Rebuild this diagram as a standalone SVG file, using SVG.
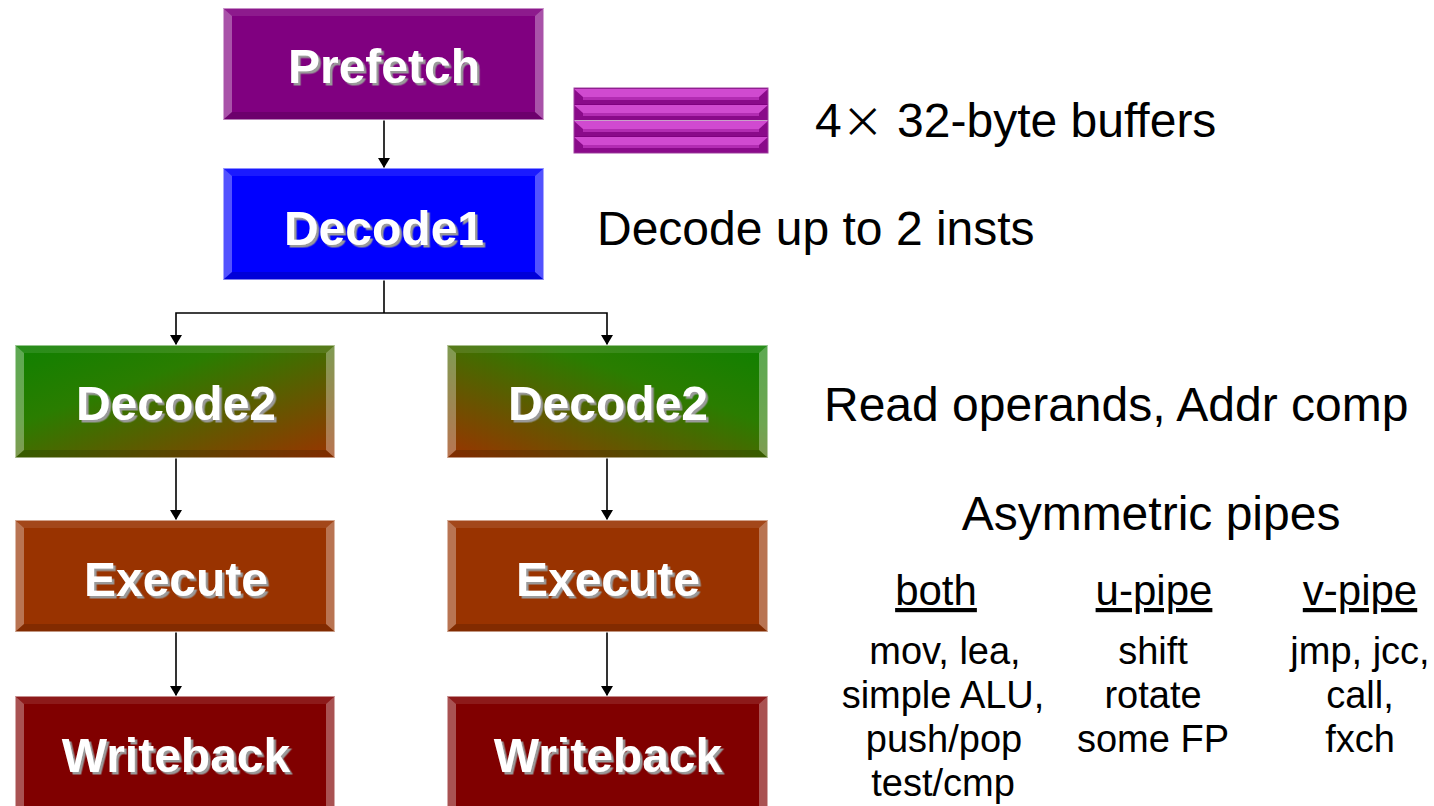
<svg xmlns="http://www.w3.org/2000/svg" width="1434" height="806" viewBox="0 0 1434 806">
<defs>
<style>
.lbl{font-family:"Liberation Sans",Arial,sans-serif;font-weight:bold;font-size:48px;fill:#fff;text-anchor:middle;filter:url(#sh)}
.txt{font-family:"Liberation Sans",Arial,sans-serif;font-size:48px;fill:#000}
.hd{font-family:"Liberation Sans",Arial,sans-serif;font-size:42px;fill:#000;text-anchor:middle;text-decoration:underline}
.ls{font-family:"Liberation Sans",Arial,sans-serif;font-size:38px;fill:#000;text-anchor:middle}
.bl{fill:#fff;fill-opacity:.32}
.bt{fill:#fff;fill-opacity:.10}
.bb{fill:#000;fill-opacity:.15}
.edge{fill:none;stroke:#fff;stroke-opacity:.5;stroke-width:2}
.con{fill:none;stroke:#000;stroke-width:1.6}
.sb{fill:#8a0a8a}
.sl{fill:#d04ad0}
.sm{fill:#b22cb2}
</style>
<filter id="sh" x="-10%" y="-20%" width="130%" height="150%">
<feDropShadow dx="2.5" dy="2.5" stdDeviation="0.6" flood-color="#9a9a9a" flood-opacity="1"/>
</filter>
<linearGradient id="gL" x1="0" y1="0" x2="1" y2="1">
<stop offset="0" stop-color="#0f8000"/>
<stop offset="0.35" stop-color="#2a7d00"/>
<stop offset="1" stop-color="#9a3300"/>
</linearGradient>
<linearGradient id="gR" x1="1" y1="0" x2="0" y2="1">
<stop offset="0" stop-color="#0f8000"/>
<stop offset="0.35" stop-color="#2a7d00"/>
<stop offset="1" stop-color="#9a3300"/>
</linearGradient>
<marker id="ah" viewBox="0 0 10 12" refX="10" refY="6" markerWidth="10" markerHeight="12" markerUnits="userSpaceOnUse" orient="auto">
<path d="M0 0 L10 6 L0 12 Z" fill="#000"/>
</marker>
</defs>

<g id="connectors">
<path class="con" d="M384 120 V168" marker-end="url(#ah)"/>
<path class="con" d="M384 280 V313"/>
<path class="con" d="M384 313 H176 V345" marker-end="url(#ah)"/>
<path class="con" d="M384 313 H607 V345" marker-end="url(#ah)"/>
<path class="con" d="M176 458 V520" marker-end="url(#ah)"/>
<path class="con" d="M176 632 V696" marker-end="url(#ah)"/>
<path class="con" d="M607 458 V520" marker-end="url(#ah)"/>
<path class="con" d="M607 632 V696" marker-end="url(#ah)"/>
</g>

<g id="prefetch">
<rect x="223" y="8" width="321" height="112" fill="#800080"/>
<polygon class="bt" points="223,8 544,8 535,16 232,16"/>
<polygon class="bl" points="223,8 232,16 232,112 223,120"/>
<polygon class="bl" points="544,8 544,120 535,112 535,16"/>
<polygon class="bb" points="223,120 232,112 535,112 544,120"/>
<rect class="edge" x="223" y="8" width="321" height="112"/>
<text class="lbl" x="384" y="83">Prefetch</text>
</g>

<g id="decode1">
<rect x="223" y="168" width="321" height="112" fill="#0000ff"/>
<polygon class="bt" points="223,168 544,168 535,176 232,176"/>
<polygon class="bl" points="223,168 232,176 232,272 223,280"/>
<polygon class="bl" points="544,168 544,280 535,272 535,176"/>
<polygon class="bb" points="223,280 232,272 535,272 544,280"/>
<rect class="edge" x="223" y="168" width="321" height="112"/>
<text class="lbl" x="384" y="245">Decode1</text>
</g>

<g id="decode2-left">
<rect x="15" y="345" width="320" height="113" fill="url(#gL)"/>
<polygon class="bt" points="15,345 335,345 326,353 24,353"/>
<polygon class="bl" points="15,345 24,353 24,450 15,458"/>
<polygon class="bl" points="335,345 335,458 326,450 326,353"/>
<polygon class="bb" points="15,458 24,450 326,450 335,458"/>
<rect class="edge" x="15" y="345" width="320" height="113"/>
<text class="lbl" x="176" y="420">Decode2</text>
</g>

<g id="decode2-right">
<rect x="447" y="345" width="321" height="113" fill="url(#gR)"/>
<polygon class="bt" points="447,345 768,345 759,353 456,353"/>
<polygon class="bl" points="447,345 456,353 456,450 447,458"/>
<polygon class="bl" points="768,345 768,458 759,450 759,353"/>
<polygon class="bb" points="447,458 456,450 759,450 768,458"/>
<rect class="edge" x="447" y="345" width="321" height="113"/>
<text class="lbl" x="608" y="420">Decode2</text>
</g>

<g id="execute-left">
<rect x="15" y="520" width="320" height="112" fill="#993300"/>
<polygon class="bt" points="15,520 335,520 326,528 24,528"/>
<polygon class="bl" points="15,520 24,528 24,624 15,632"/>
<polygon class="bl" points="335,520 335,632 326,624 326,528"/>
<polygon class="bb" points="15,632 24,624 326,624 335,632"/>
<rect class="edge" x="15" y="520" width="320" height="112"/>
<text class="lbl" x="176" y="596">Execute</text>
</g>

<g id="execute-right">
<rect x="447" y="520" width="321" height="112" fill="#993300"/>
<polygon class="bt" points="447,520 768,520 759,528 456,528"/>
<polygon class="bl" points="447,520 456,528 456,624 447,632"/>
<polygon class="bl" points="768,520 768,632 759,624 759,528"/>
<polygon class="bb" points="447,632 456,624 759,624 768,632"/>
<rect class="edge" x="447" y="520" width="321" height="112"/>
<text class="lbl" x="608" y="596">Execute</text>
</g>

<g id="writeback-left">
<rect x="15" y="696" width="320" height="110" fill="#800000"/>
<polygon class="bt" points="15,696 335,696 326,704 24,704"/>
<polygon class="bl" points="15,696 24,704 24,806 15,806"/>
<polygon class="bl" points="335,696 335,806 326,806 326,704"/>
<rect class="edge" x="15" y="696" width="320" height="112"/>
<text class="lbl" x="176" y="772">Writeback</text>
</g>

<g id="writeback-right">
<rect x="447" y="696" width="321" height="110" fill="#800000"/>
<polygon class="bt" points="447,696 768,696 759,704 456,704"/>
<polygon class="bl" points="447,696 456,704 456,806 447,806"/>
<polygon class="bl" points="768,696 768,806 759,806 759,704"/>
<rect class="edge" x="447" y="696" width="321" height="112"/>
<text class="lbl" x="608" y="772">Writeback</text>
</g>

<g id="buffers">
<rect x="574" y="88" width="194" height="65" fill="#800080"/>
<g>
<rect class="sb" x="574" y="89" width="194" height="15"/>
<polygon class="sl" points="574,89 768,89 759,97 583,97"/>
<rect class="sm" x="583" y="97" width="176" height="3"/>
</g>
<g>
<rect class="sb" x="574" y="105" width="194" height="15"/>
<polygon class="sl" points="574,105 768,105 759,113 583,113"/>
<rect class="sm" x="583" y="113" width="176" height="3"/>
</g>
<line x1="574" y1="120.5" x2="768" y2="120.5" stroke="#c8a0c8" stroke-width="1"/>
<g>
<rect class="sb" x="574" y="121" width="194" height="15"/>
<polygon class="sl" points="574,121 768,121 759,129 583,129"/>
<rect class="sm" x="583" y="129" width="176" height="3"/>
</g>
<g>
<rect class="sb" x="574" y="137" width="194" height="15"/>
<polygon class="sl" points="574,137 768,137 759,145 583,145"/>
<rect class="sm" x="583" y="145" width="176" height="3"/>
</g>
<rect x="574" y="88" width="194" height="65" fill="none" stroke="#a040a0" stroke-width="1"/>
</g>

<g id="notes">
<text class="txt" x="815" y="137">4<tspan font-family="'Noto Sans CJK JP',sans-serif" font-size="42">×</tspan> 32-byte buffers</text>
<text class="txt" x="597" y="245">Decode up to 2 insts</text>
<text class="txt" x="824" y="421">Read operands, Addr comp</text>
<text class="txt" x="1151" y="530" text-anchor="middle">Asymmetric pipes</text>
<text class="hd" x="936" y="605">both</text>
<text class="hd" x="1154" y="605">u-pipe</text>
<text class="hd" x="1360" y="605">v-pipe</text>
<text class="ls" x="945" y="664">mov, lea,</text>
<text class="ls" x="943" y="708">simple ALU,</text>
<text class="ls" x="944" y="752">push/pop</text>
<text class="ls" x="943" y="796">test/cmp</text>
<text class="ls" x="1153" y="664">shift</text>
<text class="ls" x="1153" y="708">rotate</text>
<text class="ls" x="1153" y="752">some FP</text>
<text class="ls" x="1360" y="664">jmp, jcc,</text>
<text class="ls" x="1360" y="708">call,</text>
<text class="ls" x="1360" y="752">fxch</text>
</g>
</svg>
